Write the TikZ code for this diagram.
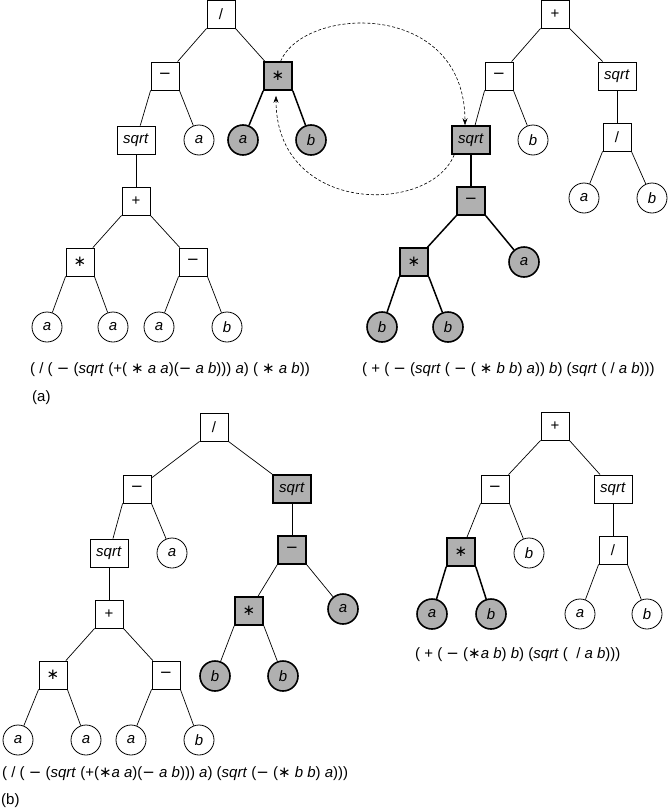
\documentclass[tikz,border=0pt]{standalone}
\usepackage{fontspec}
\setmainfont{Liberation Sans}
\newfontfamily\symf{DejaVu Sans}
\usetikzlibrary{arrows.meta}
\definecolor{hlgray}{RGB}{176,176,176}
\newcommand{\mn}{{\symf −}}
\newcommand{\st}{{\symf ∗}}
\tikzset{
  opbox/.style={draw, rectangle, minimum width=28pt, minimum height=28pt, inner sep=0pt, line width=0.8pt, fill=white},
  sqbox/.style={opbox, minimum width=38pt},
  leaf/.style={draw, circle, minimum size=30pt, inner sep=0pt, line width=0.8pt, fill=white},
  hl/.style={fill=hlgray, line width=1.6pt},
  edge/.style={line width=0.7pt},
  hedge/.style={line width=1.5pt},
  swaparrow/.style={line width=0.6pt, dash pattern=on 3pt off 2pt, -{Stealth[length=7pt,width=5pt]}},
  expr/.style={anchor=west, inner sep=0pt},
}
\begin{document}
\begin{tikzpicture}[x=1pt,y=-1pt,font=\fontsize{15}{17}\selectfont]
\useasboundingbox (0,0) rectangle (667,811);
% ---------- (a) left tree ----------
\node[opbox] (aR) at (221,14) {/};
\node[opbox] (aM) at (165,76) {\mn};
\node[opbox,hl] (aS) at (278,76) {\st};
\node[sqbox] (aQ) at (136,140) {\textit{sqrt}};
\node[leaf] (aA1) at (199,140) {\textit{a}};
\node[leaf,hl] (aA2) at (243,140) {\textit{a}};
\node[leaf,hl] (aB1) at (311,140) {\textit{b}};
\node[opbox] (aP) at (136,201) {+};
\node[opbox] (aT) at (80,262) {\st};
\node[opbox] (aN) at (193,262) {\mn};
\node[leaf] (aL1) at (47,327) {\textit{a}};
\node[leaf] (aL2) at (113,327) {\textit{a}};
\node[leaf] (aL3) at (159,327) {\textit{a}};
\node[leaf] (aL4) at (227,327) {\textit{b}};
\draw[edge] (aR.south west) -- (aM);
\draw[edge] (aR.south east) -- (aS);
\draw[edge] (aM.south west) -- (aQ);
\draw[edge] (aM.south east) -- (aA1);
\draw[hedge] (aS.south west) -- (aA2);
\draw[hedge] (aS.south east) -- (aB1);
\draw[edge] (aQ) -- (aP);
\draw[edge] (aP.south west) -- (aT);
\draw[edge] (aP.south east) -- (aN);
\draw[edge] (aT.south west) -- (aL1);
\draw[edge] (aT.south east) -- (aL2);
\draw[edge] (aN.south west) -- (aL3);
\draw[edge] (aN.south east) -- (aL4);
% ---------- (a) right tree ----------
\node[opbox] (bR) at (555,14) {+};
\node[opbox] (bM) at (499,76) {\mn};
\node[sqbox] (bQ) at (617,76) {\textit{sqrt}};
\node[sqbox,hl] (bS) at (471,140) {\textit{sqrt}};
\node[leaf] (bB) at (533,140) {\textit{b}};
\node[opbox] (bD) at (617,137) {/};
\node[leaf] (bA) at (584,198) {\textit{a}};
\node[leaf] (bB2) at (652,198) {\textit{b}};
\node[opbox,hl] (bN) at (471,201) {\mn};
\node[opbox,hl] (bT) at (414,262) {\st};
\node[leaf,hl] (bA3) at (524,262) {\textit{a}};
\node[leaf,hl] (bB3) at (382,327) {\textit{b}};
\node[leaf,hl] (bB4) at (448,327) {\textit{b}};
\draw[edge] (bR.south west) -- (bM);
\draw[edge] (bR.south east) -- (bQ);
\draw[edge] (bM.south west) -- (bS);
\draw[edge] (bM.south east) -- (bB);
\draw[edge] (bQ) -- (bD);
\draw[edge] (bD.south west) -- (bA);
\draw[edge] (bD.south east) -- (bB2);
\draw[hedge] (bS) -- (bN);
\draw[hedge] (bN.south west) -- (bT);
\draw[hedge] (bN.south east) -- (bA3);
\draw[hedge] (bT.south west) -- (bB3);
\draw[hedge] (bT.south east) -- (bB4);
% swap arrows
\draw[swaparrow] (aS.80) .. controls (305,5) and (465,0) .. ([xshift=-6pt]bS.north);
\draw[swaparrow, shorten >=5pt] ([xshift=3pt]bS.south west) .. controls (430,215) and (276,215) .. ([xshift=-2pt]aS.south);
% expressions (a)
\node[expr] (eA1) at (30,370) {( / ( \mn{} (\textit{sqrt} (+( \st{} \textit{a a})(\mn{} \textit{a b}))) \textit{a}) ( \st{} \textit{a b}))};
\node[expr] (eA2) at (362,370) {( + ( \mn{} (\textit{sqrt} ( \mn{} ( \st{} \textit{b b}) \textit{a})) \textit{b}) (\textit{sqrt} ( / \textit{a b})))};
\node[expr] (labA) at (32,398) {(a)};
% ---------- (b) left tree ----------
\node[opbox] (cR) at (214,427) {/};
\node[opbox] (cM) at (137,489) {\mn};
\node[sqbox,hl] (cQs) at (292,489) {\textit{sqrt}};
\node[sqbox] (cQ) at (109,553) {\textit{sqrt}};
\node[leaf] (cA) at (172,553) {\textit{a}};
\node[opbox,hl] (cN) at (292,550) {\mn};
\node[opbox] (cP) at (109,614) {+};
\node[opbox] (cT) at (53,675) {\st};
\node[opbox] (cN2) at (166,675) {\mn};
\node[leaf] (cL1) at (18,740) {\textit{a}};
\node[leaf] (cL2) at (86,740) {\textit{a}};
\node[leaf] (cL3) at (131,740) {\textit{a}};
\node[leaf] (cL4) at (199,740) {\textit{b}};
\node[opbox,hl] (cS) at (249,611) {\st};
\node[leaf,hl] (cB) at (215,676) {\textit{b}};
\node[leaf,hl] (cB2) at (283,676) {\textit{b}};
\node[leaf,hl] (cA2) at (343,609) {\textit{a}};
\draw[edge] (cR.south west) -- (cM);
\draw[edge] (cR.south east) -- (cQs);
\draw[edge] (cM.south west) -- (cQ);
\draw[edge] (cM.south east) -- (cA);
\draw[edge] (cQ) -- (cP);
\draw[edge] (cP.south west) -- (cT);
\draw[edge] (cP.south east) -- (cN2);
\draw[edge] (cT.south west) -- (cL1);
\draw[edge] (cT.south east) -- (cL2);
\draw[edge] (cN2.south west) -- (cL3);
\draw[edge] (cN2.south east) -- (cL4);
\draw[edge] (cQs) -- (cN);
\draw[edge] (cN.south west) -- (cS);
\draw[edge] (cN.south east) -- (cA2);
\draw[edge] (cS.south west) -- (cB);
\draw[edge] (cS.south east) -- (cB2);
% ---------- (b) right tree ----------
\node[opbox] (dR) at (555,426) {+};
\node[opbox] (dM) at (495,489) {\mn};
\node[sqbox] (dQ) at (613,489) {\textit{sqrt}};
\node[opbox,hl] (dS) at (461,552) {\st};
\node[leaf] (dB) at (529,553) {\textit{b}};
\node[opbox] (dD) at (613,550) {/};
\node[leaf,hl] (dA) at (432,614) {\textit{a}};
\node[leaf,hl] (dB2) at (491,614) {\textit{b}};
\node[leaf] (dA3) at (580,614) {\textit{a}};
\node[leaf] (dB3) at (647,614) {\textit{b}};
\draw[edge] (dR.south west) -- (dM);
\draw[edge] (dR.south east) -- (dQ);
\draw[edge] (dM.south west) -- (dS);
\draw[edge] (dM.south east) -- (dB);
\draw[edge] (dQ) -- (dD);
\draw[hedge] (dS.south west) -- (dA);
\draw[hedge] (dS.south east) -- (dB2);
\draw[edge] (dD.south west) -- (dA3);
\draw[edge] (dD.south east) -- (dB3);
% expressions (b)
\node[expr] (eB2) at (415,655) {( + ( \mn{} (\st\textit{a b}) \textit{b}) (\textit{sqrt} (\ \ / \textit{a b})))};
\node[expr] (eB1) at (2,774) {( / ( \mn{} (\textit{sqrt} (+(\st\textit{a a})(\mn{} \textit{a b}))) \textit{a}) (\textit{sqrt} (\mn{} (\st{} \textit{b b}) \textit{a})))};
\node[expr] (labB) at (1,801) {(b)};
\end{tikzpicture}
\end{document}
